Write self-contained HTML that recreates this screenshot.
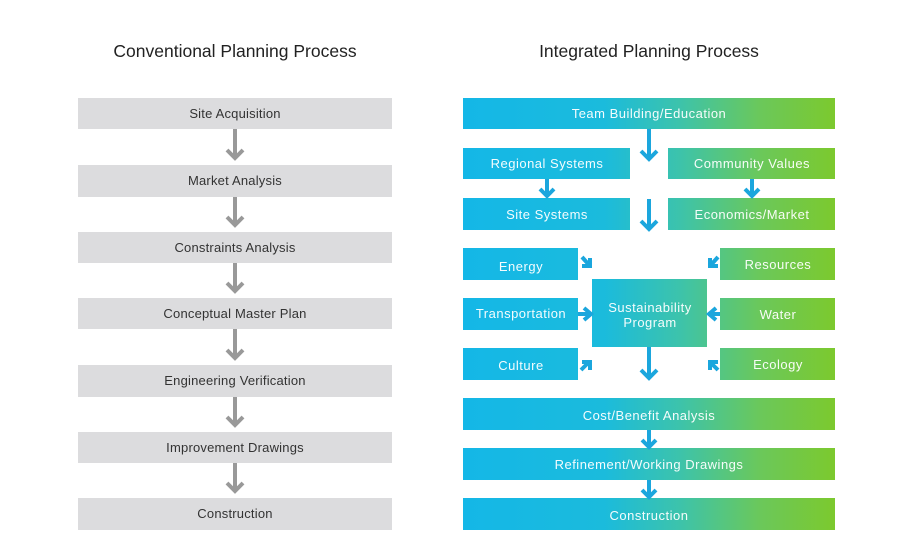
<!DOCTYPE html>
<html><head><meta charset="utf-8"><style>
html,body{margin:0;padding:0;background:#fff;}
svg{display:block;}
text{font-family:"Liberation Sans",sans-serif;}
</style></head><body>
<svg width="900" height="557" viewBox="0 0 900 557" xmlns="http://www.w3.org/2000/svg">
<defs>
<linearGradient id="g" gradientUnits="userSpaceOnUse" x1="463" y1="0" x2="835" y2="0">
<stop offset="0" stop-color="#14b7e7"/>
<stop offset="0.38" stop-color="#1bbbdc"/>
<stop offset="0.58" stop-color="#3cc3ac"/>
<stop offset="0.8" stop-color="#6bc85a"/>
<stop offset="1" stop-color="#7cc92e"/>
</linearGradient>
</defs>
<rect width="900" height="557" fill="#fff"/>
<!-- Titles -->
<text x="235" y="57" font-size="17.5" fill="#222" text-anchor="middle">Conventional Planning Process</text>
<text x="649" y="57" font-size="17.5" fill="#222" text-anchor="middle">Integrated Planning Process</text>

<!-- Left column -->
<g fill="#dcdcde">
<rect x="78" y="98" width="314" height="31"/>
<rect x="78" y="165" width="314" height="32"/>
<rect x="78" y="232" width="314" height="31"/>
<rect x="78" y="298" width="314" height="31"/>
<rect x="78" y="365" width="314" height="32"/>
<rect x="78" y="432" width="314" height="31"/>
<rect x="78" y="498" width="314" height="32"/>
</g>
<g font-size="13" fill="#333" text-anchor="middle" letter-spacing="0.2">
<text x="235" y="118">Site Acquisition</text>
<text x="235" y="185">Market Analysis</text>
<text x="235" y="252">Constraints Analysis</text>
<text x="235" y="318">Conceptual Master Plan</text>
<text x="235" y="385">Engineering Verification</text>
<text x="235" y="452">Improvement Drawings</text>
<text x="235" y="518">Construction</text>
</g>
<g stroke="#999" stroke-width="4" fill="none">
<path d="M235 129V157M227 150L235 158L243 150"/>
<path d="M235 197V224M227 217L235 225L243 217"/>
<path d="M235 263V290M227 283L235 291L243 283"/>
<path d="M235 329V357M227 350L235 358L243 350"/>
<path d="M235 397V424M227 417L235 425L243 417"/>
<path d="M235 463V490M227 483L235 491L243 483"/>
</g>

<!-- Right column boxes -->
<g fill="url(#g)">
<rect x="463" y="98" width="372" height="31"/>
<rect x="463" y="148" width="167" height="31"/>
<rect x="668" y="148" width="167" height="31"/>
<rect x="463" y="198" width="167" height="32"/>
<rect x="668" y="198" width="167" height="32"/>
<rect x="463" y="248" width="115" height="32"/>
<rect x="720" y="248" width="115" height="32"/>
<rect x="463" y="298" width="115" height="32"/>
<rect x="720" y="298" width="115" height="32"/>
<rect x="463" y="348" width="115" height="32"/>
<rect x="720" y="348" width="115" height="32"/>
<rect x="592" y="279" width="115" height="68"/>
<rect x="463" y="398" width="372" height="32"/>
<rect x="463" y="448" width="372" height="32"/>
<rect x="463" y="498" width="372" height="32"/>
</g>
<g font-size="13" fill="#fff" text-anchor="middle" letter-spacing="0.5" fill-opacity="0.95">
<text x="649" y="118">Team Building/Education</text>
<text x="547" y="168">Regional Systems</text>
<text x="752" y="168">Community Values</text>
<text x="547" y="219">Site Systems</text>
<text x="752" y="219">Economics/Market</text>
<text x="521" y="271">Energy</text>
<text x="778" y="269">Resources</text>
<text x="521" y="318">Transportation</text>
<text x="778" y="319">Water</text>
<text x="521" y="370">Culture</text>
<text x="778" y="369">Ecology</text>
<text x="650" y="312">Sustainability</text>
<text x="650" y="327">Program</text>
<text x="649" y="420">Cost/Benefit Analysis</text>
<text x="649" y="469">Refinement/Working Drawings</text>
<text x="649" y="520">Construction</text>
</g>

<!-- Right arrows -->
<g stroke="#1ba6dd" stroke-width="4" fill="none">
<path d="M649 129V157M641 151L649 159L657 151"/>
<path d="M547 179V194M540 189L547 196L554 189"/>
<path d="M752 179V194M745 189L752 196L759 189"/>
<path d="M649 199V227M641 221L649 229L657 221"/>
<path d="M582 257L590 266M582 266H590V258"/>
<path d="M718 257L710 266M718 266H710V258"/>
<path d="M578 314H590M584 308L591 314L584 320"/>
<path d="M720 314H708M716 308L709 314L716 320"/>
<path d="M581 370L589 362M582 362H590V370"/>
<path d="M718 370L710 362M718 362H710V370"/>
<path d="M649 347V376M641 370L649 378L657 370"/>
<path d="M649 430V445M642 440L649 447L656 440"/>
<path d="M649 480V495M642 490L649 497L656 490"/>
</g>
</svg>
</body></html>
